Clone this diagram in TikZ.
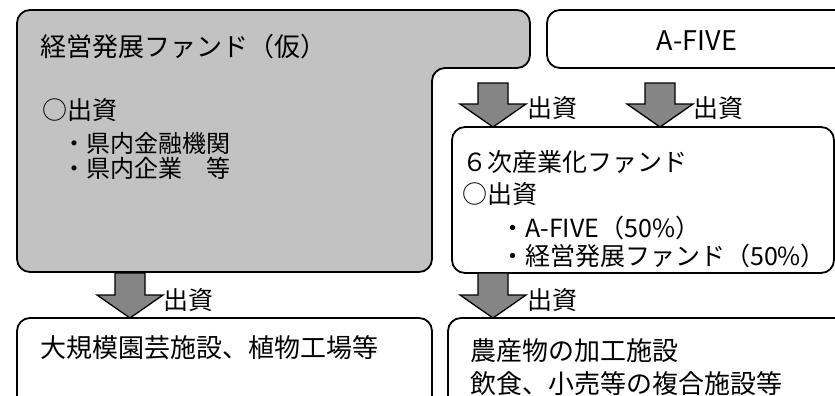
\documentclass[tikz,border=0pt]{standalone}
\usepackage{fontspec}
\setmainfont{Noto Sans CJK JP}
\usetikzlibrary{calc}
\tikzset{
  box/.style={draw=black, line width=1.8pt, rounded corners=13pt},
  greybox/.style={box, fill=black!24},
  barrowstyle/.style={draw=black, line width=1.3pt, fill=black!48, line join=miter},
  txt/.style={anchor=west, inner sep=0pt},
  big/.style={font=\fontsize{25}{25}\selectfont},
  small/.style={font=\fontsize{24}{24}\selectfont},
}
\newcommand\blockarrow[4]{%
  \coordinate (#1s) at (#2,#3);
  \coordinate (#1t) at (#2,#4);
  \draw[barrowstyle] ($(#1s)+(-15,0)$) -- ($(#1s)+(15,0)$) -- ($(#1t)+(15,-23)$)
    -- ($(#1t)+(33,-23)$) -- (#1t) -- ($(#1t)+(-33,-23)$) -- ($(#1t)+(-15,-23)$) -- cycle;}
\begin{document}
\begin{tikzpicture}[x=1pt,y=-1pt]
\useasboundingbox (0,0) rectangle (835,396);
\clip (0,0) rectangle (835,396);
% grey L-shaped fund box
\draw[greybox] (17,10) -- (530,10) -- (530,68) -- (432,68) -- (432,272) -- (17,272) -- cycle;
\coordinate (fundbox) at (224,140);
% A-FIVE box
\draw[box] (547,10) rectangle (850,68);
\node[txt, font=\fontsize{27}{27}\selectfont, anchor=center] (afive) at (697,41) {A-FIVE};
% 6th industry fund box
\draw[box] (452,127) rectangle (834,273);
% bottom boxes
\draw[box] (17,318) rectangle (432,410);
\draw[box] (448,318) rectangle (850,410);
% arrows
\blockarrow{aa}{493}{83}{127}
\blockarrow{ab}{660}{83}{127}
\blockarrow{ac}{130}{273}{318}
\blockarrow{ad}{493}{273}{318}
% labels on arrows
\node[txt, big] (la) at (527,108) {出資};
\node[txt, big] (lb) at (693,108) {出資};
\node[txt, big] (lc) at (163,300) {出資};
\node[txt, big] (ld) at (527,300) {出資};
% texts of grey box
\node[txt, font=\fontsize{26}{26}\selectfont] (g1) at (40,47) {経営発展ファンド（仮）};
\node[txt, big] (g2) at (42,110) {○出資};
\node[txt, small] (g3) at (62,143) {・県内金融機関};
\node[txt, small] (g4) at (62,168) {・県内企業　等};
% texts of 6th industry box
\node[txt, big] (r1) at (462,162) {６次産業化ファンド};
\node[txt, big] (r2) at (462,194) {○出資};
\node[txt, big] (r3) at (500,228) {・A-FIVE（50\%）};
\node[txt, big] (r4) at (500,256) {・経営発展ファンド（50\%）};
% bottom texts
\node[txt, font=\fontsize{26}{26}\selectfont] (b1) at (40,348) {大規模園芸施設、植物工場等};
\node[txt, font=\fontsize{26}{26}\selectfont] (b2) at (470,351) {農産物の加工施設};
\node[txt, font=\fontsize{26}{26}\selectfont] (b3) at (470,384) {飲食、小売等の複合施設等};
\end{tikzpicture}
\end{document}
